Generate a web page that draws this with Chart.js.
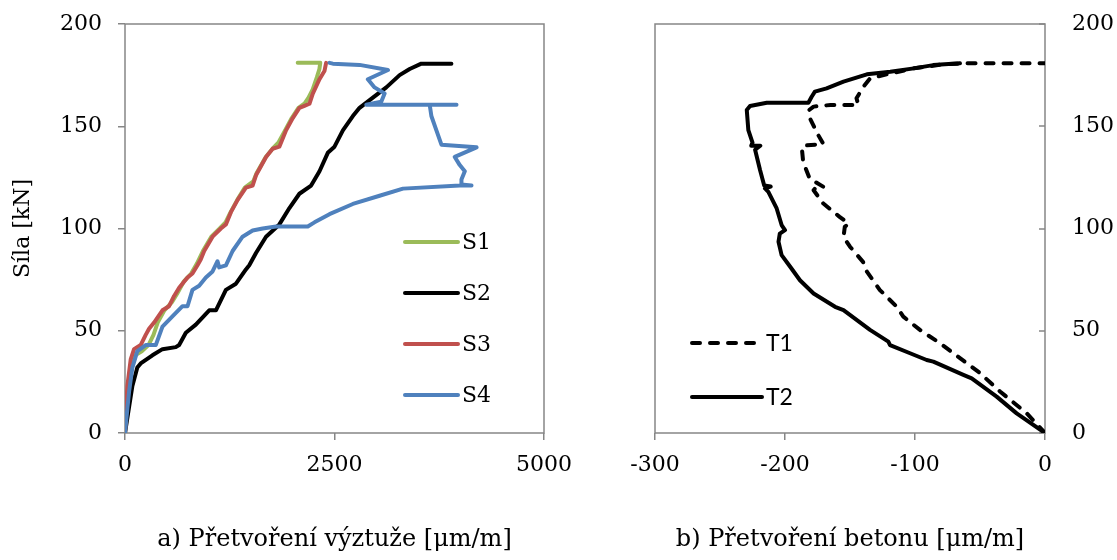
<!DOCTYPE html>
<html>
<head>
<meta charset="utf-8">
<script src="https://cdn.jsdelivr.net/npm/chart.js@4.4.1/dist/chart.umd.min.js"></script>
<style>
  html, body { margin: 0; padding: 0; background: #fff; }
  #wrap { position: relative; width: 1117px; height: 560px; }
  #wrap canvas { position: absolute; left: 0; top: 0; }
</style>
</head>
<body>
<div id="wrap">
  <canvas id="left" width="1117" height="560"></canvas>
  <canvas id="right" width="1117" height="560"></canvas>
</div>
<script>
  // [strain, force] pairs
  const s1 = [[0,0],[30,20],[70,33],[120,38],[200,40],[280,43],[340,48],[390,54],[470,60],[560,64],[620,68],[700,74],[790,78],[860,83],[930,89],[1030,96],[1130,100],[1200,103],[1260,108],[1340,114],[1430,120],[1530,123],[1570,127],[1680,135],[1760,139],[1830,142],[1910,148],[1990,154],[2070,159],[2140,161],[2190,164],[2240,168],[2290,174],[2320,178],[2330,181],[2061,181]]
  const s2 = [[0,0],[88,23],[147,32],[187,34],[327,38],[447,41],[606,42],[646,43],[726,49],[845,53],[1005,60],[1085,60],[1204,70],[1324,73],[1443,80],[1483,82],[1563,88],[1683,96],[1842,102],[1962,110],[2081,117],[2221,121],[2321,128],[2420,137],[2500,140],[2600,148],[2719,155],[2799,159],[2958,164],[3118,169],[3277,175],[3397,178],[3536,180.6],[3756,180.6],[3895,180.6]]
  const s3 = [[0,0],[28,23],[68,36],[108,41],[187,43],[247,48],[287,51],[347,54],[447,60],[526,62],[586,67],[646,71],[746,76],[805,78],[865,82],[905,85],[945,89],[1045,96],[1144,100],[1204,102],[1264,108],[1344,114],[1443,120],[1523,121],[1563,126],[1683,135],[1762,139],[1842,140],[1922,148],[2002,154],[2081,159],[2141,160],[2201,161],[2241,166],[2321,173],[2380,177],[2400,181]]
  const s4 = [[0,0],[48,20],[88,32],[147,40],[247,43],[367,43],[447,52],[566,57],[686,62],[746,62],[805,70],[885,72],[965,76],[1045,79],[1104,84],[1124,81],[1204,82],[1284,89],[1403,96],[1523,99],[1643,100],[1802,101],[2181,101],[2261,103],[2440,107],[2719,112],[3038,116],[3317,119.5],[3995,121],[4135,121],[4010,121.5],[4015,124],[4055,128],[3995,131],[3935,135],[4195,139.7],[3776,141],[3716,148],[3656,155],[3636,160.5],[3956,160.5],[2879,160.5],[3058,162],[3098,166],[2978,169],[2898,173],[3138,177.5],[2799,180],[2480,180.6],[2440,181]]

  const t1 = [[0,0],[-14,9.6],[-34.6,20.3],[-50,29.3],[-65.4,36.6],[-80.8,43.9],[-96.2,50.4],[-109,56.9],[-114,61.7],[-127,69.9],[-137,78.9],[-140,83.7],[-150,91.1],[-155,95.9],[-154,100.8],[-151,102.4],[-158,105.7],[-170.5,112.2],[-178,118.7],[-176,120.4],[-170.5,120.4],[-181,124.4],[-186,132.5],[-187,139],[-186,140.5],[-170.5,141.3],[-175.6,147],[-180.8,153.9],[-181.3,158],[-178,159.6],[-165,160.4],[-143.6,160.4],[-145,163.7],[-139.7,169.3],[-134.6,173.4],[-119,175.8],[-101,178.3],[-78,180.3],[-60,180.8],[0,180.8]]
  const t2 = [[0,0],[-21.8,9.6],[-37.2,17.8],[-56.4,26.7],[-62.8,28.4],[-85.9,34.9],[-91,35.7],[-103.8,39],[-119.2,43],[-120.5,44.7],[-134.6,50.4],[-155,60.1],[-161.5,61.7],[-178,68.2],[-188.5,74.7],[-196,81.3],[-202.6,87],[-205,93.5],[-204,97.5],[-200,99.2],[-202.6,101.7],[-206.4,109.8],[-212.8,117.9],[-215.4,119.6],[-211,120.5],[-216,121],[-219.2,128.6],[-223,138.5],[-219,140.5],[-226,140.5],[-225,142],[-228.2,148.1],[-229.4,157.9],[-226.9,159.9],[-214,161.5],[-182,161.5],[-179.5,164.4],[-177,166.9],[-168,168.5],[-155,171.8],[-137,175.4],[-119,176.7],[-101,178.3],[-86,179.9],[-65.4,180.8]]

  const yTicks = [0, 50, 100, 150, 200]
  const leftXTicks = [0, 2500, 5000]
  const rightXTicks = [-300, -200, -100, 0]

  const GREY = '#868686'
  const SERIF = 'DejaVu Serif'
  const tickFont = { family: SERIF, size: 22 }
  const plain = v => String(v)

  const pts = arr => arr.map(p => ({ x: p[0], y: p[1] }))

  // plot frame + optional inward ticks on the right edge
  const framePlugin = {
    id: 'frame',
    beforeDatasetsDraw(chart, args, opts) {
      const { ctx, chartArea: a } = chart
      ctx.save()
      ctx.strokeStyle = GREY
      ctx.lineWidth = 1.5
      ctx.strokeRect(a.left, a.top, a.right - a.left, a.bottom - a.top)
      if (opts.innerTicks) {
        const ys = chart.scales.y
        ys.ticks.forEach(t => {
          const py = Math.round(ys.getPixelForValue(t.value))
          ctx.beginPath()
          ctx.moveTo(a.right - 6, py)
          ctx.lineTo(a.right, py)
          ctx.stroke()
        })
      }
      ctx.restore()
    }
  }

  // legend drawn inside the plot, one item per row
  const lineLegend = {
    id: 'lineLegend',
    afterDatasetsDraw(chart, args, opts) {
      const ctx = chart.ctx
      ctx.save()
      chart.data.datasets.forEach((ds, i) => {
        const y = opts.y + i * opts.gap
        ctx.beginPath()
        ctx.setLineDash(ds.borderDash || [])
        ctx.lineCap = 'round'
        ctx.lineWidth = ds.borderWidth
        ctx.strokeStyle = ds.borderColor
        ctx.moveTo(opts.x, y)
        ctx.lineTo(opts.x + opts.len, y)
        ctx.stroke()
        ctx.setLineDash([])
        ctx.fillStyle = '#000'
        ctx.font = opts.font
        ctx.textBaseline = 'middle'
        ctx.fillText(ds.label, opts.x + opts.len + 4, y + 1)
      })
      ctx.restore()
    }
  }

  function series(label, data, color, order, dash) {
    return {
      label,
      data: pts(data),
      borderColor: color,
      backgroundColor: color,
      borderWidth: 4,
      borderDash: dash || [],
      borderCapStyle: 'round',
      borderJoinStyle: 'round',
      pointRadius: 0,
      tension: 0,
      showLine: true,
      fill: false,
      order
    }
  }

  const yScale = (position, extra) => Object.assign({
    type: 'linear',
    position,
    min: 0,
    max: 200,
    afterBuildTicks: s => { s.ticks = yTicks.map(v => ({ value: v })) },
    border: { display: false }
  }, extra)

  const xScale = (min, max, list, caption) => ({
    type: 'linear',
    min,
    max,
    afterBuildTicks: s => { s.ticks = list.map(v => ({ value: v })) },
    ticks: { color: '#000', font: tickFont, autoSkip: false, maxRotation: 0, padding: 12, callback: plain },
    grid: { drawOnChartArea: false, tickLength: 7, color: GREY, tickColor: GREY, lineWidth: 1.5 },
    border: { display: false },
    title: { display: true, text: caption, color: '#000', font: { family: SERIF, size: 24 }, padding: { bottom: 6 } },
    afterFit: s => { s.height = 127 }
  })

  new Chart(document.getElementById('left'), {
    type: 'scatter',
    data: {
      datasets: [
        series('S1', s1, '#9BBB59', 4),
        series('S2', s2, '#000000', 3),
        series('S3', s3, '#C0504D', 2),
        series('S4', s4, '#4F81BD', 1)
      ]
    },
    options: {
      responsive: false,
      animation: false,
      layout: { padding: { left: 0, top: 24, right: 573, bottom: 0 } },
      plugins: {
        legend: { display: false },
        tooltip: { enabled: false },
        frame: {},
        lineLegend: { x: 405, y: 242, gap: 51, len: 53, font: '22px "DejaVu Serif"' }
      },
      scales: {
        x: xScale(0, 5000, leftXTicks, 'a) Přetvoření výztuže [μm/m]'),
        y: yScale('left', {
          grid: { drawOnChartArea: false, tickLength: 7, color: GREY, tickColor: GREY, lineWidth: 1.5 },
          ticks: { color: '#000', font: tickFont, autoSkip: false, padding: 16, callback: plain },
          title: { display: true, text: 'Síla [kN]', color: '#000', font: { family: SERIF, size: 22 }, padding: { top: 10 } },
          afterFit: s => { s.width = 125; s.paddingTop = 0; s.paddingBottom = 0 }
        })
      }
    },
    plugins: [framePlugin, lineLegend]
  })

  new Chart(document.getElementById('right'), {
    type: 'scatter',
    data: {
      datasets: [
        series('T1', t1, '#000000', 2, [8, 10]),
        series('T2', t2, '#000000', 1)
      ]
    },
    options: {
      responsive: false,
      animation: false,
      layout: { padding: { left: 655, top: 24, right: 0, bottom: 0 } },
      plugins: {
        legend: { display: false },
        tooltip: { enabled: false },
        frame: { innerTicks: true },
        lineLegend: { x: 692, y: 343, gap: 54, len: 70, font: '23px Lato' }
      },
      scales: {
        x: xScale(-300, 0, rightXTicks, 'b) Přetvoření betonu [μm/m]'),
        y: yScale('right', {
          grid: { display: false, drawTicks: false },
          ticks: { color: '#000', font: tickFont, autoSkip: false, padding: 27, callback: plain },
          afterFit: s => { s.width = 72; s.paddingTop = 0; s.paddingBottom = 0 }
        })
      }
    },
    plugins: [framePlugin, lineLegend]
  })
</script>
</body>
</html>
